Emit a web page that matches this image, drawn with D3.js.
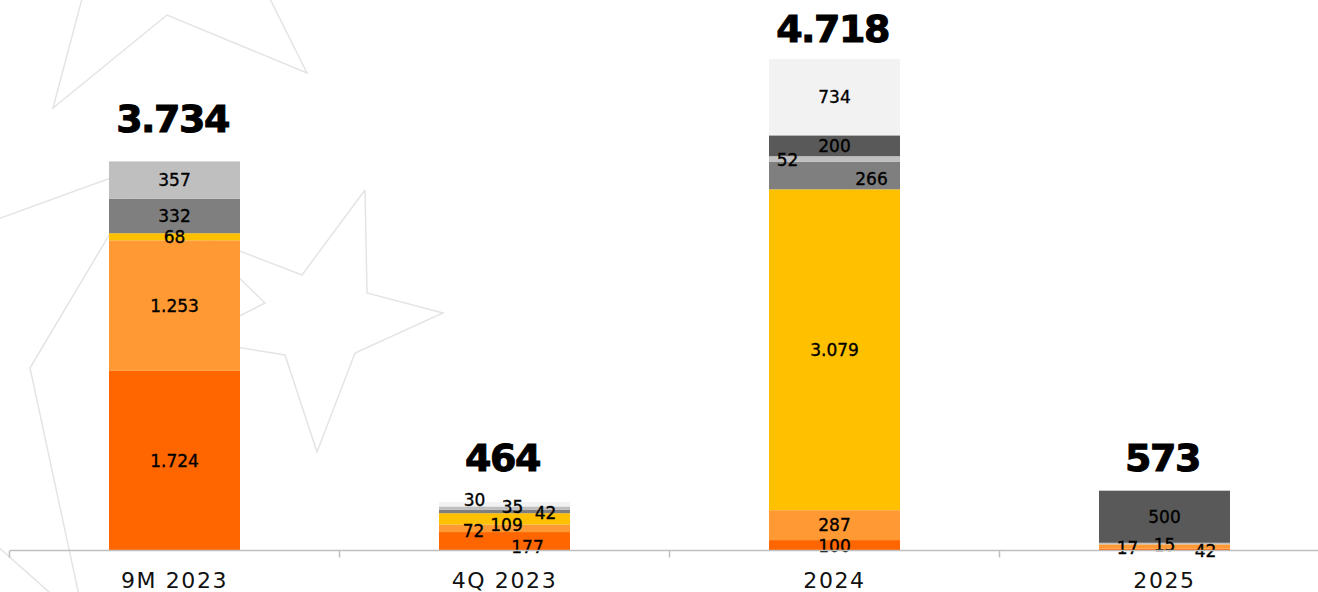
<!DOCTYPE html>
<html>
<head>
<meta charset="utf-8">
<script src="https://cdn.jsdelivr.net/npm/d3@7"></script>
<style>
  html, body { margin: 0; padding: 0; background: #fff; }
  svg { display: block; }
</style>
</head>
<body>
<div id="chart"></div>
<script>
// values
const categories = ["9M 2023", "4Q 2023", "2024", "2025"];
const darkOrange  = [1724, 177, 100, 17];
const lightOrange = [1253, 72, 287, 42];
const yellow      = [68, 109, 3079, 0];
const midGray     = [332, 35, 266, 0];
const lightGray   = [357, 30, 52, 15];
const darkGray    = [0, 0, 200, 500];
const paleGray    = [0, 42, 734, 0];
const totals      = [3734, 464, 4718, 573];

const seriesKeys = ["darkOrange", "lightOrange", "yellow", "midGray", "lightGray", "darkGray", "paleGray"];
const seriesValues = { darkOrange, lightOrange, yellow, midGray, lightGray, darkGray, paleGray };
const colors = {
  darkOrange: "#FF6600", lightOrange: "#FF9933", yellow: "#FFC000",
  midGray: "#7F7F7F", lightGray: "#BFBFBF", darkGray: "#595959", paleGray: "#F2F2F2"
};

// rows for d3.stack
const rows = categories.map((c, i) => {
  const r = { category: c };
  seriesKeys.forEach(k => r[k] = seriesValues[k][i]);
  return r;
});

const width = 1318, height = 592;
const baseY = 550.5;

// small labels that were moved by hand in the original so they don't collide
const labelNudge = {
  "4Q 2023": { darkOrange: [23, 6], lightOrange: [-31, 3], yellow: [2, 6], midGray: [8, -4], lightGray: [-30, -8], paleGray: [41, 9] },
  "2024":    { darkOrange: [0, 1], midGray: [37, 3], lightGray: [-47, 1] },
  "2025":    { darkOrange: [-37, -2], lightOrange: [41, 4], lightGray: [0, 1] }
};
const totalGap = { "9M 2023": 29, "4Q 2023": 31, "2024": 17, "2025": 20 };

const fmt = d3.formatLocale({ decimal: ",", thousands: ".", grouping: [3], currency: ["", ""] }).format(",");

const svg = d3.select("#chart").append("svg")
  .attr("width", width)
  .attr("height", height);

// faint star outlines in the background
const decor = svg.append("g")
  .attr("fill", "none")
  .attr("stroke", "#E4E4E4")
  .attr("stroke-width", 1.5);
[
  [[83, -5], [53, 108], [167, 15], [307, 73], [268, -5]],
  [[-5, 220], [152, 163], [30, 368], [80, 600]],
  [[-5, 544], [58, 600]],
  [[365, 190], [302, 275], [193, 233], [265, 303], [192, 340], [285, 355], [317, 452], [355, 353], [443, 313], [367, 293], [365, 190]]
].forEach(pts => decor.append("path").attr("d", d3.line()(pts)));

const x = d3.scaleBand()
  .domain(categories)
  .range([9.5, 9.5 + 330 * categories.length])
  .padding(0);
const barW = 131;
const barX = c => x(c) + (x.bandwidth() - barW) / 2;

const y = d3.scaleLinear()
  .domain([0, 5283])
  .range([baseY, 0]);

const stacked = d3.stack().keys(seriesKeys)(rows);

const layers = svg.selectAll(".layer")
  .data(stacked)
  .enter().append("g")
  .attr("class", "layer")
  .attr("fill", d => colors[d.key]);

layers.selectAll("rect")
  .data(d => d.filter(p => p[1] - p[0] > 0))
  .enter().append("rect")
  .attr("x", d => barX(d.data.category))
  .attr("width", barW)
  .attr("y", d => y(d[1]))
  .attr("height", d => y(d[0]) - y(d[1]));

// segment labels
const segLabels = svg.append("g")
  .attr("font-family", "'DejaVu Sans', sans-serif")
  .attr("font-size", 17)
  .attr("text-anchor", "middle")
  .attr("fill", "#000")
  .attr("stroke", "#000")
  .attr("stroke-width", 0.35);

stacked.forEach(layer => {
  layer.forEach(p => {
    const v = p[1] - p[0];
    if (v <= 0) return;
    const c = p.data.category;
    const nudge = (labelNudge[c] && labelNudge[c][layer.key]) || [0, 0];
    segLabels.append("text")
      .attr("x", x(c) + x.bandwidth() / 2 + nudge[0])
      .attr("y", (y(p[0]) + y(p[1])) / 2 + nudge[1])
      .attr("dy", "0.36em")
      .text(fmt(v));
  });
});

// totals above the bars
svg.append("g").selectAll("text")
  .data(categories)
  .enter().append("text")
  .attr("x", c => x(c) + x.bandwidth() / 2 - 2)
  .attr("y", (c, i) => y(d3.sum(seriesKeys, k => seriesValues[k][i])) - totalGap[c])
  .attr("text-anchor", "middle")
  .attr("font-family", "'DejaVu Sans', sans-serif")
  .attr("font-weight", "bold")
  .attr("font-size", 38)
  .attr("letter-spacing", -1.5)
  .attr("fill", "#000")
  .attr("stroke", "#000")
  .attr("stroke-width", 1)
  .text((c, i) => fmt(totals[i]));

// x axis: line with ticks between the categories
const axis = svg.append("g")
  .attr("transform", "translate(0," + baseY + ")")
  .call(d3.axisBottom(x).tickSize(0).tickPadding(22));
axis.select(".domain").attr("stroke", "#BFBFBF").attr("stroke-width", 1.5)
  .attr("d", "M10,0H" + width);
axis.selectAll(".tick text")
  .attr("font-family", "'DejaVu Sans', sans-serif")
  .attr("font-size", 22)
  .attr("letter-spacing", 1.6)
  .attr("fill", "#111");
axis.selectAll(".boundary")
  .data(categories)
  .enter().append("line")
  .attr("class", "boundary")
  .attr("x1", c => x(c)).attr("x2", c => x(c))
  .attr("y1", 0).attr("y2", 7)
  .attr("stroke", "#BFBFBF")
  .attr("stroke-width", 1.5);
</script>
</body>
</html>
